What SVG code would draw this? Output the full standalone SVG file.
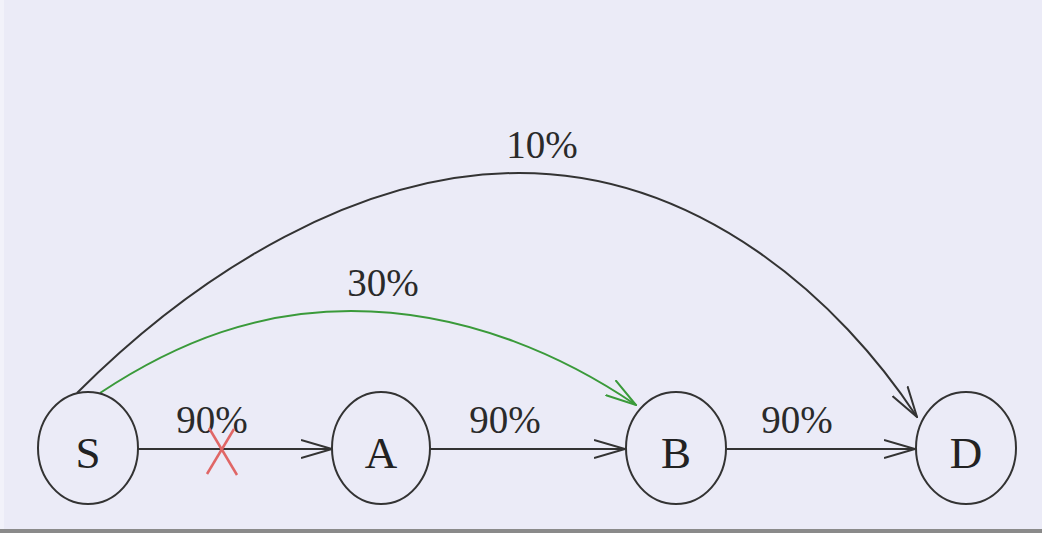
<svg xmlns="http://www.w3.org/2000/svg" width="1042" height="533" viewBox="0 0 1042 533">
<style>
.node ellipse{fill:none;stroke:#333;stroke-width:2}
.node text{font-family:"Liberation Serif",serif;font-size:45px;fill:#222;text-anchor:middle}
.lbl{font-family:"Liberation Serif",serif;font-size:39px;fill:#2a2a2a;text-anchor:middle}
.edge{fill:none;stroke:#333;stroke-width:2}
.green{stroke:#3a9a3a}
</style>
<defs>
<marker id="arr" viewBox="0 0 32 20" refX="31" refY="10" markerWidth="32" markerHeight="20" markerUnits="userSpaceOnUse" orient="auto">
<path d="M0,1 L31,10 L0,19" fill="none" stroke="#333" stroke-width="2"/>
</marker>
<marker id="arrg" viewBox="0 0 32 20" refX="31" refY="10" markerWidth="32" markerHeight="20" markerUnits="userSpaceOnUse" orient="auto">
<path d="M0,1 L31,10 L0,19" fill="none" stroke="#3a9a3a" stroke-width="2"/>
</marker>
</defs>
<rect x="0" y="0" width="1042" height="533" fill="#ebebf7"/>
<rect x="0" y="0" width="4" height="529" fill="#f2f2fa"/>
<rect x="0" y="529" width="1042" height="4" fill="#8a8a8a"/>
<g id="connectors">
<path class="edge" d="M138,449 L332,449" marker-end="url(#arr)"/>
<path class="edge" d="M430,449 L625,449" marker-end="url(#arr)"/>
<path class="edge" d="M726,449 L915,449" marker-end="url(#arr)"/>
<path class="edge" d="M77,393 C200,270 360,173 519,173 C700,173 840,300 917,417" marker-end="url(#arr)"/>
<path class="edge green" d="M100,393 C180,340 260,311 351,311 C470,311 570,360 636,405" marker-end="url(#arrg)"/>
<text class="lbl" x="212" y="433">90%</text>
<text class="lbl" x="505" y="433">90%</text>
<text class="lbl" x="797" y="433">90%</text>
<text class="lbl" x="542" y="158">10%</text>
<text class="lbl" x="383" y="296">30%</text>
<g id="cross" stroke="#e06666" stroke-width="2.5" fill="none">
<path d="M209,428 L237,475"/>
<path d="M207,474 L234,429"/>
</g>
</g>
<g id="node-S" class="node"><ellipse cx="88" cy="448" rx="50" ry="56"/><text x="88" y="468">S</text></g>
<g id="node-A" class="node"><ellipse cx="381" cy="448" rx="49" ry="56"/><text x="381" y="468">A</text></g>
<g id="node-B" class="node"><ellipse cx="676" cy="448" rx="50" ry="56"/><text x="676" y="468">B</text></g>
<g id="node-D" class="node"><ellipse cx="966" cy="448" rx="50" ry="56"/><text x="966" y="468">D</text></g>
</svg>
